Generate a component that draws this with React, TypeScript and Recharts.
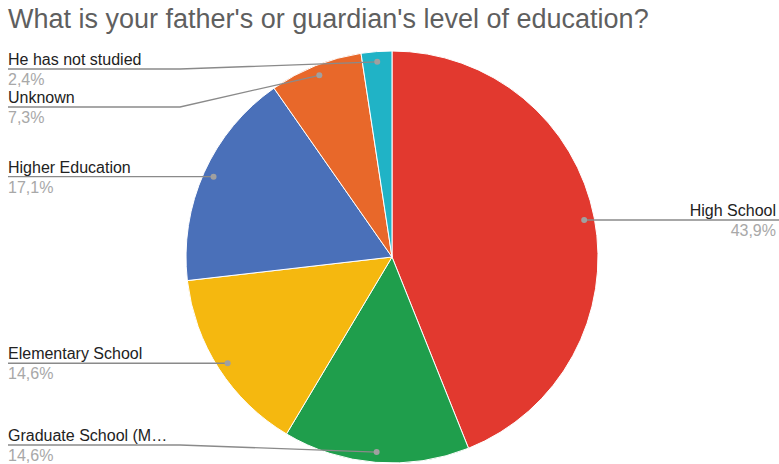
import { PieChart, Pie, Cell } from "recharts"

const categories = [
  "High School",
  "Graduate School (M…",
  "Elementary School",
  "Higher Education",
  "Unknown",
  "He has not studied",
]
const shares = [43.9, 14.6, 14.6, 17.1, 7.3, 2.4]
const colors = ["#e2392f", "#1f9e4c", "#f5b80f", "#4a70b9", "#e8682a", "#20b3c6"]

const data = categories.map((name, i) => ({ name, value: shares[i] }))

const FONT = "'Liberation Sans', Arial, sans-serif"
const W = 779
const H = 464
const R = 206
const PAD = 8
const LIMIT = 188
const GAP = 38
const ELBOW_X = 180

// figure out where each label row sits (relative to the pie centre), pushing overlapping rows apart
const total = shares.reduce((a, b) => a + b, 0)
const rowY: number[] = []
{
  let cum = 0
  const items = shares.map((v, i) => {
    const mid = 90 - ((cum + v / 2) / total) * 360
    cum += v
    const rad = (mid * Math.PI) / 180
    return { i, right: Math.cos(rad) >= 0, y: -0.95 * R * Math.sin(rad) }
  })
  for (const side of [true, false]) {
    const group = items.filter((d) => d.right === side).sort((a, b) => a.y - b.y)
    const ys = group.map((d) => Math.max(-LIMIT, Math.min(LIMIT, d.y)))
    for (let k = 1; k < ys.length; k++) ys[k] = Math.max(ys[k], ys[k - 1] + GAP)
    for (let k = ys.length - 2; k >= 0; k--) ys[k] = Math.min(ys[k], ys[k + 1] - GAP)
    group.forEach((d, k) => (rowY[d.i] = ys[k]))
  }
}

const fmt = (v: number) => `${v.toFixed(1).replace(".", ",")}%`

const renderLabel = (props: any) => {
  const { cx, cy, midAngle, outerRadius, index } = props
  const rad = (-midAngle * Math.PI) / 180
  const dx = cx + outerRadius * 0.95 * Math.cos(rad)
  const dy = cy + outerRadius * 0.95 * Math.sin(rad)
  const ly = cy + rowY[index]
  const right = Math.cos(rad) >= 0
  const points = right
    ? `${dx},${dy} ${W},${ly}`
    : `${PAD},${ly} ${ELBOW_X},${ly} ${dx},${dy}`
  const tx = right ? W - 3 : PAD
  const anchor = right ? "end" : "start"
  return (
    <g key={`lbl-${index}`}>
      <polyline points={points} fill="none" stroke="#8a8a8a" strokeWidth={1.3} />
      <circle cx={dx} cy={dy} r={3} fill="#a0a0a0" />
      <text x={tx} y={ly - 4} textAnchor={anchor} fontSize={16} fontFamily={FONT} fill="#222">
        {categories[index]}
      </text>
      <text x={tx} y={ly + 16} textAnchor={anchor} fontSize={16} fontFamily={FONT} fill="#a8a8a8">
        {fmt(shares[index])}
      </text>
    </g>
  )
}

export default function App() {
  return (
    <div style={{ position: "relative", width: W, height: H, overflow: "hidden" }}>
      <style>{"body{margin:0}"}</style>
      <div
        style={{
          position: "absolute",
          top: 4,
          left: PAD,
          fontFamily: FONT,
          fontSize: 27,
          lineHeight: "31px",
          color: "#5f5f5f",
          whiteSpace: "nowrap",
        }}
      >
        What is your father's or guardian's level of education?
      </div>
      <PieChart width={W} height={H} margin={{ top: 0, right: 0, bottom: 0, left: 0 }}>
        <Pie
          data={data}
          dataKey="value"
          nameKey="name"
          cx={392}
          cy={257}
          outerRadius={R}
          startAngle={90}
          endAngle={-270}
          stroke="#ffffff"
          strokeWidth={1}
          label={renderLabel}
          labelLine={false}
          isAnimationActive={false}
        >
          {data.map((d, i) => (
            <Cell key={d.name} fill={colors[i]} />
          ))}
        </Pie>
      </PieChart>
    </div>
  )
}
